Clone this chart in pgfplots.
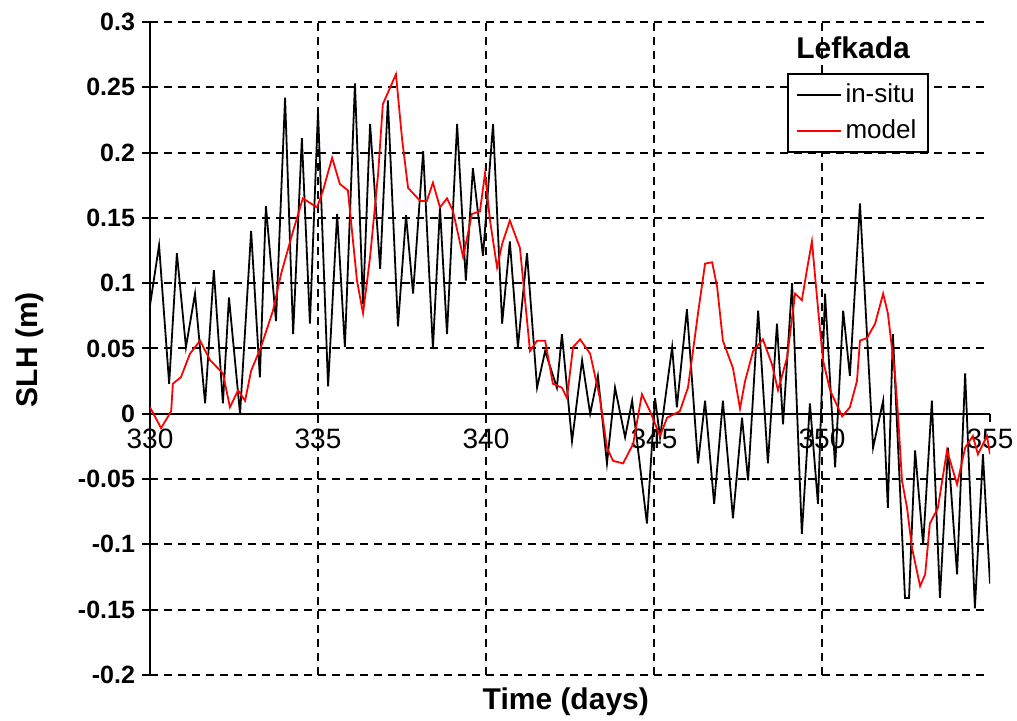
\documentclass[border=0pt]{standalone}
\usepackage{fontspec}
\setmainfont{Liberation Sans}
\usepackage{pgfplots}
\pgfplotsset{compat=1.18}

% in-situ sea level height (m)
\pgfplotstableread{
x y
330.00 0.083
330.27 0.129
330.57 0.023
330.80 0.123
331.07 0.051
331.34 0.092
331.64 0.008
331.90 0.110
332.17 0.008
332.35 0.089
332.68 0.000
333.01 0.140
333.27 0.028
333.45 0.159
333.75 0.071
334.02 0.242
334.26 0.061
334.52 0.211
334.76 0.069
335.00 0.232
335.30 0.021
335.57 0.153
335.80 0.051
336.10 0.253
336.34 0.084
336.55 0.222
336.85 0.111
337.08 0.240
337.38 0.067
337.62 0.152
337.83 0.092
338.13 0.201
338.42 0.050
338.63 0.158
338.84 0.061
339.14 0.222
339.40 0.102
339.61 0.188
339.91 0.121
340.21 0.222
340.48 0.069
340.71 0.132
340.95 0.051
341.22 0.123
341.52 0.020
341.76 0.048
342.11 0.020
342.26 0.061
342.56 -0.021
342.86 0.041
343.10 0.000
343.33 0.029
343.60 -0.038
343.84 0.020
344.14 -0.018
344.35 0.010
344.79 -0.084
345.03 0.012
345.18 -0.018
345.54 0.051
345.68 0.005
345.98 0.080
346.31 -0.038
346.52 0.010
346.79 -0.069
347.05 0.010
347.35 -0.080
347.62 -0.003
347.80 -0.051
348.10 0.079
348.39 -0.038
348.66 0.069
348.84 -0.008
349.11 0.100
349.40 -0.092
349.64 0.008
349.88 -0.069
350.09 0.092
350.39 -0.041
350.63 0.079
350.83 0.029
351.13 0.161
351.52 -0.026
351.82 0.010
351.96 -0.072
352.11 0.061
352.47 -0.141
352.59 -0.141
352.77 -0.028
353.01 -0.100
353.27 0.010
353.51 -0.141
353.75 -0.026
354.02 -0.123
354.26 0.031
354.55 -0.149
354.79 -0.031
355.00 -0.130
}\insitu

% model sea level height (m)
\pgfplotstableread{
x y
330.00 0.005
330.33 -0.011
330.63 0.002
330.68 0.023
330.92 0.028
331.19 0.046
331.49 0.056
331.79 0.041
332.17 0.031
332.38 0.005
332.62 0.018
332.83 0.010
333.01 0.033
333.30 0.051
333.66 0.079
333.90 0.107
334.26 0.140
334.55 0.165
334.97 0.158
335.15 0.171
335.42 0.196
335.65 0.176
335.89 0.171
336.16 0.102
336.34 0.077
336.55 0.120
336.79 0.184
336.93 0.237
337.32 0.260
337.50 0.211
337.68 0.173
338.04 0.163
338.24 0.163
338.42 0.177
338.63 0.158
338.84 0.165
339.02 0.155
339.32 0.120
339.58 0.153
339.82 0.155
339.97 0.184
340.12 0.148
340.33 0.112
340.48 0.130
340.71 0.148
341.01 0.127
341.31 0.048
341.52 0.056
341.76 0.056
341.99 0.023
342.26 0.020
342.41 0.012
342.59 0.051
342.80 0.057
343.10 0.046
343.39 0.012
343.60 -0.026
343.78 -0.036
344.08 -0.038
344.38 -0.023
344.64 0.015
344.88 0.002
345.18 -0.017
345.39 -0.003
345.77 0.002
346.01 0.020
346.16 0.048
346.31 0.077
346.52 0.115
346.73 0.116
346.88 0.097
347.05 0.056
347.35 0.035
347.56 0.004
347.71 0.025
347.95 0.048
348.24 0.057
348.51 0.038
348.69 0.018
348.96 0.043
349.20 0.092
349.40 0.087
349.55 0.110
349.70 0.132
349.88 0.081
350.03 0.041
350.24 0.018
350.60 -0.002
350.83 0.005
351.04 0.025
351.13 0.056
351.34 0.058
351.58 0.069
351.82 0.092
351.96 0.077
352.17 0.031
352.26 0.000
352.38 -0.051
352.53 -0.072
352.68 -0.103
352.92 -0.132
353.07 -0.123
353.21 -0.084
353.45 -0.072
353.72 -0.028
354.02 -0.054
354.26 -0.026
354.49 -0.017
354.64 -0.031
354.91 -0.017
355.00 -0.031
}\model

\begin{document}
\begin{tikzpicture}
\begin{axis}[
  scale only axis, width=420pt, height=326.5pt,
  xmin=330, xmax=355, ymin=-0.2, ymax=0.3,
  axis x line=middle, axis y line=left,
  axis line style={-, line width=1pt},
  hide obscured x ticks=false,
  xtick={330,335,...,355},
  ytick={-0.2,-0.15,-0.1,-0.05,0,0.05,0.1,0.15,0.2,0.25,0.3},
  extra x ticks={335,340,345,350},
  extra x tick labels={},
  extra x tick style={grid=major, major tick length=0pt},
  ymajorgrids,
  major grid style={black, line width=1pt, dash pattern=on 4pt off 3pt},
  tick style={black, line width=1pt},
  tick align=outside, major tick length=4pt,
  xticklabel style={font=\fontsize{14}{16}\selectfont,
    /pgf/number format/assume math mode=true},
  yticklabel style={font=\fontsize{12.5}{14}\selectfont\bfseries,
    /pgf/number format/fixed, /pgf/number format/precision=2,
    /pgf/number format/assume math mode=true},
  xlabel={Time (days)},
  ylabel={SLH (m)},
  every axis x label/.style={at={(axis description cs:0.495,0)}, anchor=north,
    yshift=-3pt, font=\fontsize{15}{17}\selectfont\bfseries},
  every axis y label/.style={at={(axis description cs:-0.143,0.498)}, rotate=90,
    anchor=center, font=\fontsize{15}{17}\selectfont\bfseries},
  legend style={at={(rel axis cs:0.758,0.922)}, anchor=north west,
    draw=black, line width=1pt, font=\fontsize{13}{15}\selectfont,
    inner xsep=4pt, inner ysep=3pt, row sep=3pt},
  legend cell align=left,
  legend image code/.code={\draw[#1] (0pt,0pt) -- (22pt,0pt);},
]
\addplot[black, line width=0.9pt] table {\insitu};
\addlegendentry{in-situ}
\addplot[red, line width=0.9pt] table {\model};
\addlegendentry{model}
\node[font=\fontsize{15}{17}\selectfont\bfseries] at (rel axis cs:0.837,0.96) {Lefkada};
\end{axis}
\pgfresetboundingbox
\path (current axis.south west) +(-75pt,-23pt) (current axis.north east) +(13.5pt,11pt);
\end{tikzpicture}
\end{document}
